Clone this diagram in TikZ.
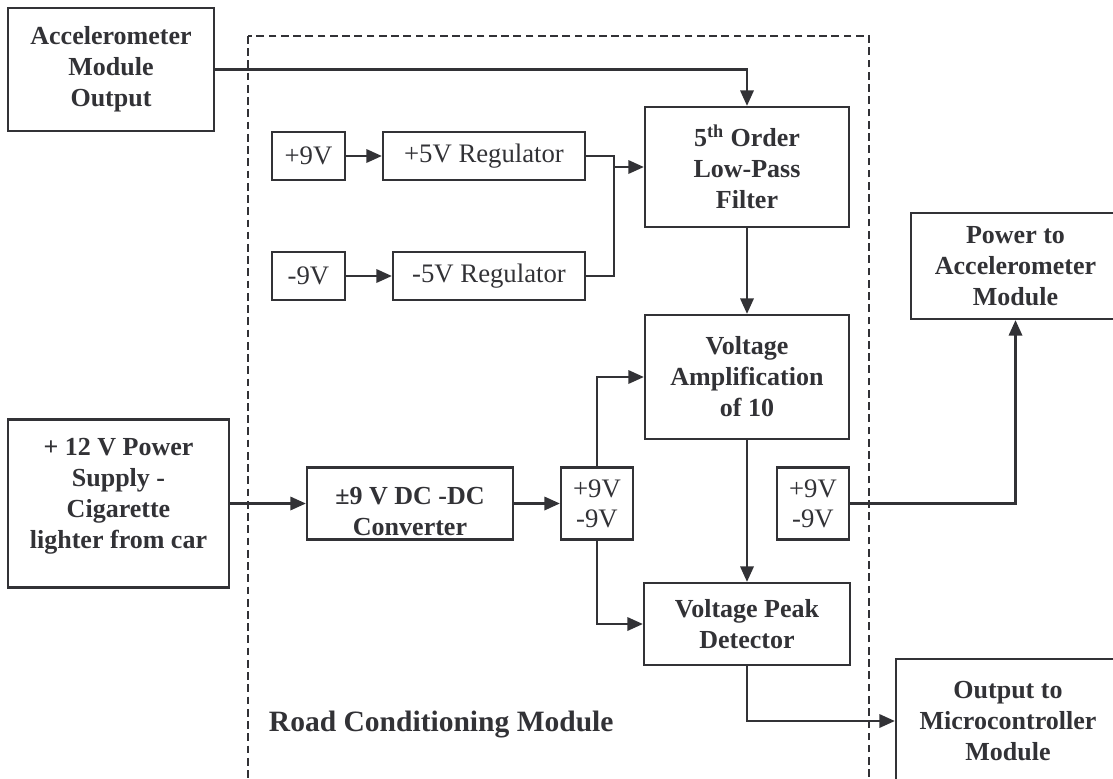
\documentclass[tikz,border=0pt]{standalone}
\usepackage{fontspec}
\setmainfont{Liberation Serif}
\usetikzlibrary{arrows.meta}
\definecolor{ink}{RGB}{50,50,54}
\tikzset{
  boldbox/.style={draw=ink, line width=1.6pt, text=ink, align=center, inner sep=0pt,
    font=\bfseries\fontsize{18.5}{22}\selectfont},
  normbox/.style={draw=ink, line width=1.6pt, text=ink, align=center, inner sep=0pt,
    font=\fontsize{19}{21.5}\selectfont},
  conn/.style={draw=ink, line width=1.6pt, -{Triangle[length=11pt,width=9.5pt]}},
  wire/.style={draw=ink, line width=1.6pt},
}
\begin{document}
\begin{tikzpicture}[x=0.025cm, y=-0.025cm]
    \useasboundingbox (0,0) rectangle (1113,778);
    \clip (0,0) rectangle (1113,778);

    % Modulo (riquadro tratteggiato)
    \draw[ink, line width=1.2pt, dash pattern=on 5.5pt off 3.2pt] (248,36) rectangle (869,830);
    \node[text=ink, anchor=west, font=\bfseries\fontsize{21}{25}\selectfont] (rcm) at (264,725) {Road Conditioning Module};

    % Blocchi esterni
    \node[boldbox, minimum width=5.15cm, minimum height=3.075cm] (acc) at (111,69.5) {Accelerometer\\Module\\Output};
    \node[boldbox, minimum width=5.525cm, minimum height=4.2cm,
      label={[text=ink, align=center, font=\bfseries\fontsize{18.5}{22}\selectfont, yshift=5pt]center:{+ 12 V Power\\Supply -\\Cigarette\\lighter from car}}] (ps) at (118.5,503.5) {};
    \node[boldbox, minimum width=5.225cm, minimum height=2.65cm] (pacc) at (1015.5,266) {Power to\\Accelerometer\\Module};
    \node[boldbox, minimum width=5.6cm, minimum height=3.1cm] (out) at (1008,721) {Output to\\Microcontroller\\Module};

    % Alimentazione dei regolatori
    \node[normbox, minimum width=1.825cm, minimum height=1.2cm] (p9) at (308.5,156) {+9V};
    \node[normbox, minimum width=5.05cm, minimum height=1.2cm] (reg5p) at (484,156) {+5V Regulator};
    \node[normbox, minimum width=1.825cm, minimum height=1.2cm] (m9) at (308.5,276) {-9V};
    \node[normbox, minimum width=4.8cm, minimum height=1.2cm] (reg5m) at (489,276) {-5V Regulator};

    % Catena del segnale
    \node[boldbox, minimum width=5.1cm, minimum height=3.0cm] (filter) at (747,167) {5\textsuperscript{th} Order\\Low-Pass\\Filter};
    \node[boldbox, minimum width=5.1cm, minimum height=3.1cm] (amp) at (747,377) {Voltage\\Amplification\\of 10};
    \node[boldbox, minimum width=5.15cm, minimum height=2.05cm] (peak) at (747,624) {Voltage Peak\\Detector};

    % Convertitore e uscite +/-9V
    \node[boldbox, minimum width=5.15cm, minimum height=1.8cm,
      label={[text=ink, align=center, font=\bfseries\fontsize{18.5}{22}\selectfont, yshift=-6pt]center:{±9 V DC -DC\\Converter}}] (dcdc) at (410,503.5) {};
    \node[normbox, minimum width=1.8cm, minimum height=1.8cm] (pm1) at (597,503.5) {+9V\\-9V};
    \node[normbox, minimum width=1.8cm, minimum height=1.8cm] (pm2) at (813,503.5) {+9V\\-9V};

    % Collegamenti
    \draw[conn] (acc.east) -| (filter.north);
    \draw[conn] (p9) -- (reg5p);
    \draw[conn] (m9) -- (reg5m);
    \coordinate (jn) at (614,167);
    \draw[wire] (reg5p.east) -| (jn) |- (reg5m.east);
    \draw[conn] (jn) -- (filter.west);
    \draw[conn] (filter) -- (amp);
    \draw[conn] (ps) -- (dcdc);
    \draw[conn] (dcdc) -- (pm1);
    \draw[conn] (pm1.north) |- (amp.west);
    \draw[conn] (pm1.south) |- (peak.west);
    \draw[conn] (amp) -- (peak);
    \draw[conn] (pm2.east) -| (pacc.south);
    \draw[conn] (peak.south) |- (out.west);
\end{tikzpicture}
\end{document}
